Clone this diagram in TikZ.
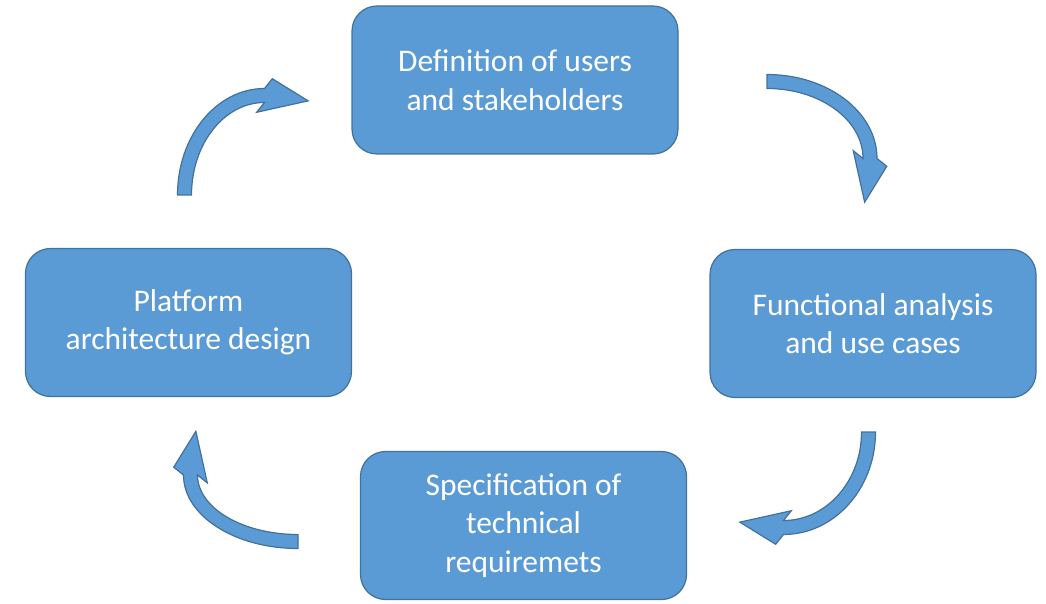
\documentclass[tikz,border=0pt]{standalone}
\usepackage{fontspec}
\setmainfont{Carlito}
\usetikzlibrary{calc}

\definecolor{boxfill}{HTML}{5B9BD5}
\definecolor{boxline}{HTML}{41719C}

% curved block arrow: centre, x radius, y radius, tail angle, head angle, turn (1 ccw, -1 cw)
% the head is skewed a little towards the inside of the bend
\newcommand{\loopArrow}[6]{%
  \begin{scope}[shift={#1}]
    \pgfmathsetmacro\rxo{#2+7}\pgfmathsetmacro\ryo{#3+7}
    \pgfmathsetmacro\rxi{#2-7}\pgfmathsetmacro\ryi{#3-7}
    \pgfmathsetmacro\hdang{#5+90*#6}
    \pgfmathsetmacro\outang{-90*#6+25*#6}
    \pgfmathsetmacro\inang{90*#6+25*#6}
    \pgfmathsetmacro\tipang{7*#6}
    \coordinate (hb) at (#5:#2 and #3);
    \coordinate (hd) at ($(hb)+(\hdang:#2 and #3)$);
    \filldraw[loop arrow] (#4:\rxo pt and \ryo pt)
      arc[start angle=#4, end angle=#5, x radius=\rxo pt, y radius=\ryo pt]
      -- ($(hb)!18.5pt!\outang:(hd)$) -- ($(hb)!44pt!\tipang:(hd)$) -- ($(hb)!18.5pt!\inang:(hd)$)
      -- (#5:\rxi pt and \ryi pt)
      arc[start angle=#5, end angle=#4, x radius=\rxi pt, y radius=\ryi pt] -- cycle;
  \end{scope}}

\begin{document}
\begin{tikzpicture}[x=1pt, y=1pt]
    \tikzstyle{stage box} = [draw=boxline, fill=boxfill, line width=1.2pt, rounded corners=25pt,
      minimum width=326pt, minimum height=148pt, inner sep=0pt, align=center, text=white,
      font=\fontsize{31.5}{38.5}\selectfont]
    \tikzstyle{loop arrow} = [draw=boxline, fill=boxfill, line width=1.2pt, line join=miter]

    \useasboundingbox (0,0) rectangle (1046,603);

      \node[stage box] (def)  at (515,523)    {Definition of users\\and stakeholders};
      \node[stage box] (func) at (873,279.5)  {Functional analysis\\and use cases};
      \node[stage box] (spec) at (523.5,77.5) {Specification of\\technical\\requiremets};
      \node[stage box] (plat) at (188.5,280.5) {Platform\\architecture design};

      % arrows running clockwise round the cycle
      \loopArrow{(264.5,408)}{80}{99.5}{180}{90}{-1}
      \loopArrow{(767,444.5)}{103}{77}{90}{0}{-1}
      \loopArrow{(783.5,171)}{85}{95.5}{0}{-90}{-1}
      \loopArrow{(298,128)}{107.5}{66.5}{270}{180}{-1}
\end{tikzpicture}
\end{document}
